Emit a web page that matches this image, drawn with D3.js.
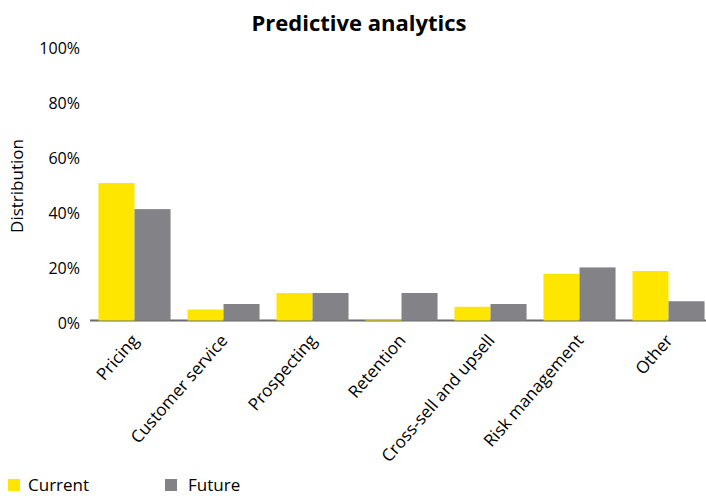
<!DOCTYPE html>
<html><head><meta charset="utf-8">
<script src="https://cdn.jsdelivr.net/npm/d3@7"></script>
<style>body{margin:0;background:#fff}svg{display:block;font-family:"Open Sans",sans-serif}</style>
</head><body>
<svg id="c" width="706" height="496"></svg>
<script>
const categories = ["Pricing","Customer service","Prospecting","Retention","Cross-sell and upsell","Risk management","Other"];
const current = [50, 4, 10, 0.3, 5, 17, 18];
const future = [40.5, 6, 10, 10, 6, 19.3, 7];
const seriesNames = ["Current","Future"];
const yTicks = [0,20,40,60,80,100];
const colors = ["#FFE600","#838387"];

const svg = d3.select("#c");
const x = d3.scaleBand().domain(categories).range([90, 713]).paddingInner(0.19).paddingOuter(0.095);
const xs = d3.scaleBand().domain(seriesNames).range([0, x.bandwidth()]);
const y = d3.scaleLinear().domain([0,100]).range([320.5, 45.5]);

svg.append("text").attr("x",359).attr("y",31).attr("text-anchor","middle")
  .attr("font-size",22).attr("font-weight","bold").attr("fill","#000").text("Predictive analytics");

const yAxis = svg.append("g").attr("transform","translate(80,0)")
  .call(d3.axisLeft(y).tickValues(yTicks).tickFormat(d=>d+"%").tickSize(0).tickPadding(0));
yAxis.select(".domain").remove();
yAxis.selectAll("text").attr("font-size",16).attr("fill","#000").attr("font-family","'Open Sans',sans-serif").attr("dy","0.5em");

svg.append("text").attr("transform","translate(23,186) rotate(-90)").attr("text-anchor","middle")
  .attr("font-size",17).attr("fill","#000").text("Distribution");

svg.append("line").attr("x1",90).attr("x2",706).attr("y1",320.5).attr("y2",320.5)
  .attr("stroke","#6b6b6b").attr("stroke-width",2);

const data = categories.map((c,i)=>({c, vals:[current[i], future[i]]}));
const g = svg.append("g");
data.forEach(d=>{
  d.vals.forEach((v,j)=>{
    g.append("rect").attr("x", x(d.c)+xs(seriesNames[j])).attr("width", xs.bandwidth())
      .attr("y", y(v)).attr("height", y(0)-y(v)).attr("fill", colors[j]);
  });
});

const xl = svg.append("g");
categories.forEach(c=>{
  const cx = x(c)+x.bandwidth()/2+5;
  xl.append("text").attr("transform",`translate(${cx},341) rotate(-49)`)
    .attr("text-anchor","end").attr("font-size",17).attr("fill","#000").text(c);
});

const leg = svg.append("g");
[[8,28],[165,188]].forEach((p,i)=>{
  leg.append("rect").attr("x",p[0]).attr("y",479).attr("width",12).attr("height",12).attr("fill",colors[i]);
  leg.append("text").attr("x",p[1]).attr("y",491).attr("font-size",17).attr("fill","#000").text(seriesNames[i]);
});
</script>
</body></html>
